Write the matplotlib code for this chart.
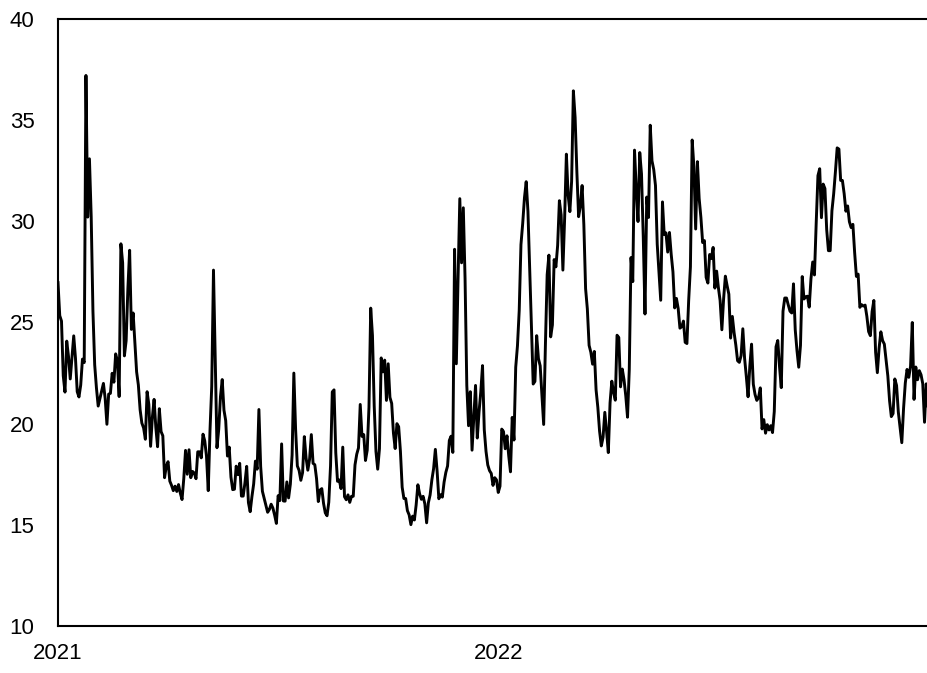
import matplotlib
matplotlib.use("Agg")
import matplotlib.pyplot as plt
import numpy as np

plt.rcParams["font.family"] = ["Liberation Sans", "DejaVu Sans"]

# daily closes, one value per trading day
vix_2021 = [
    # Jan
    26.97, 25.34, 25.07, 22.37, 21.56, 24.08, 23.33, 22.21, 23.25, 24.34,
    23.24, 21.58, 21.32, 21.91, 23.19, 23.02, 37.21, 30.21, 33.09,
    # Feb
    30.24, 25.56, 22.91, 21.77, 20.87, 21.24, 21.63, 21.99, 21.25, 19.97,
    21.46, 21.50, 22.49, 22.05, 23.45, 23.11, 21.34, 28.89, 27.95,
    # Mar
    23.35, 24.10, 26.67, 28.57, 24.66, 25.47, 24.03, 22.56, 21.91, 20.69,
    20.03, 19.79, 19.23, 21.58, 20.95, 18.88, 20.30, 21.20, 19.81, 18.86,
    20.74, 19.61, 19.40,
    # Apr
    17.33, 17.91, 18.12, 17.16, 16.95, 16.69, 16.91, 16.65, 16.99, 16.57,
    16.25, 17.29, 18.68, 17.50, 18.71, 17.33, 17.64, 17.56, 17.28, 18.61,
    18.61,
    # May
    18.31, 19.48, 19.15, 18.39, 16.69, 19.66, 21.84, 27.59, 23.13, 18.81,
    19.72, 21.34, 22.18, 20.67, 20.15, 18.40, 18.84, 17.36, 16.74, 16.76,
    # Jun
    17.90, 17.48, 18.04, 16.42, 16.42, 17.07, 17.89, 16.10, 15.65, 16.39,
    17.02, 18.15, 17.75, 20.70, 17.89, 16.66, 16.32, 15.97, 15.62, 15.76,
    16.02, 15.83,
    # Jul
    15.48, 15.07, 16.44, 16.20, 19.00, 16.18, 16.17, 17.12, 16.33, 17.01,
    18.45, 22.50, 19.73, 17.91, 17.69, 17.20, 17.58, 19.36, 18.31, 17.70,
    18.24,
    # Aug
    19.46, 18.04, 17.97, 17.28, 16.15, 16.72, 16.79, 16.06, 15.59, 15.45,
    16.12, 17.91, 21.57, 21.67, 18.56, 17.15, 17.22, 16.79, 18.84, 16.39,
    16.24, 16.48,
    # Sep
    16.11, 16.41, 16.41, 17.96, 18.49, 18.80, 20.95, 19.37, 19.46, 18.18,
    18.69, 20.81, 25.71, 24.36, 20.87, 18.63, 17.75, 18.76, 23.25, 22.56,
    23.14,
    # Oct
    21.15, 22.96, 21.30, 21.00, 19.54, 18.77, 20.00, 19.85, 18.64, 16.86,
    16.30, 16.30, 15.70, 15.49, 15.01, 15.43, 15.24, 15.98, 16.98, 16.53,
    16.26,
    # Nov
    16.41, 16.03, 15.10, 16.09, 16.48, 17.22, 17.78, 18.73, 17.66, 16.29,
    16.49, 16.37, 17.11, 17.59, 17.91, 19.17, 19.38, 18.58, 28.62, 22.96,
    27.19,
    # Dec
    31.12, 27.95, 30.67, 27.18, 21.89, 19.90, 21.58, 18.69, 20.31, 21.89,
    19.29, 20.57, 21.57, 22.87, 19.70, 18.63, 17.96, 17.68, 17.54, 16.95,
    17.33, 17.22,
]

vix_2022 = [
    # Jan
    16.60, 16.91, 19.73, 19.61, 18.76, 19.40, 18.41, 17.62, 20.31, 19.19,
    22.79, 23.85, 25.59, 28.85, 29.90, 31.16, 31.96, 30.49, 27.66, 24.83,
    # Feb
    21.96, 22.09, 24.35, 23.22, 22.86, 21.44, 19.96, 23.91, 27.36, 28.33,
    24.29, 24.88, 28.11, 27.75, 28.81, 31.02, 30.32, 27.59, 30.15,
    # Mar
    33.32, 31.30, 30.48, 31.98, 36.45, 35.13, 32.45, 30.23, 30.75, 31.77,
    29.83, 26.67, 25.67, 23.87, 23.53, 22.94, 23.57, 21.67, 20.81, 19.63,
    18.90, 19.33, 20.56,
    # Apr
    19.63, 18.57, 21.03, 22.10, 21.55, 21.16, 24.37, 24.26, 21.82, 22.70,
    22.17, 21.37, 20.32, 22.68, 28.21, 27.02, 33.52, 31.60, 29.99, 33.40,
    # May
    32.34, 29.25, 25.42, 31.20, 30.19, 34.75, 32.99, 32.56, 31.77, 28.87,
    27.47, 26.10, 30.96, 29.35, 29.43, 28.48, 29.45, 28.37, 27.50, 25.72,
    26.19,
    # Jun
    25.69, 24.72, 24.79, 25.07, 24.02, 23.96, 26.09, 27.75, 34.02, 32.69,
    29.62, 32.95, 31.13, 30.19, 28.95, 29.05, 27.23, 26.95, 28.36, 28.16,
    28.71,
    # Jul
    26.70, 27.54, 26.73, 26.08, 24.64, 26.17, 27.29, 26.82, 26.40, 24.23,
    25.30, 24.50, 23.88, 23.11, 23.03, 23.36, 24.69, 23.24, 22.33, 21.33,
    # Aug
    22.84, 23.93, 21.95, 21.44, 21.15, 21.29, 21.77, 19.74, 20.20, 19.53,
    19.95, 19.69, 19.90, 19.56, 20.60, 23.80, 24.11, 22.82, 21.78, 25.56,
    26.21, 26.21, 25.87,
    # Sep
    25.56, 25.47, 26.91, 24.64, 23.61, 22.79, 23.87, 27.27, 26.16, 26.27,
    26.30, 25.76, 27.16, 27.99, 27.35, 29.92, 32.26, 32.60, 30.18, 31.84,
    31.62,
    # Oct
    29.59, 28.55, 28.55, 30.52, 31.36, 32.45, 33.63, 33.57, 32.02, 32.02,
    31.37, 30.50, 30.76, 29.98, 29.69, 29.85, 28.46, 27.28, 27.39, 25.75,
    25.88,
    # Nov
    25.81, 25.86, 25.30, 24.55, 24.35, 25.54, 26.09, 23.53, 22.52, 23.73,
    24.54, 24.11, 23.93, 23.12, 22.36, 21.13, 20.35, 20.50, 22.21, 21.89,
    20.58,
    # Dec
    19.84, 19.06, 20.75, 22.01, 22.68, 22.29, 22.83, 25.00, 21.20, 22.80,
    22.17, 22.62, 22.42, 21.97, 20.07, 21.97, 20.87, 21.65, 22.14, 21.44,
    21.67,
]

year_labels = ["2021", "2022"]
y_ticks = [10, 15, 20, 25, 30, 35, 40]

values = np.array(vix_2021 + vix_2022)
x = np.arange(len(values))
year_starts = [0, len(vix_2021)]

fig = plt.figure(figsize=(9.27, 6.73), dpi=100)
# right edge of the plot runs a little past the picture, as in the source
ax = fig.add_axes([58 / 927, 47 / 673, 877 / 927, 607 / 673])

ax.plot(x, values, color="black", linewidth=2.1)

ax.set_xlim(0, len(values) - 1)
ax.set_ylim(10, 40)
ax.set_yticks(y_ticks)
ax.set_xticks(year_starts)
ax.set_xticklabels(year_labels)
ax.tick_params(axis="both", length=0, labelsize=16)
ax.tick_params(axis="y", pad=17)
ax.tick_params(axis="x", pad=12)

for side in ["left", "top", "bottom", "right"]:
    ax.spines[side].set_linewidth(1.5)
    ax.spines[side].set_color("black")

fig.savefig("out.png", dpi=100)
